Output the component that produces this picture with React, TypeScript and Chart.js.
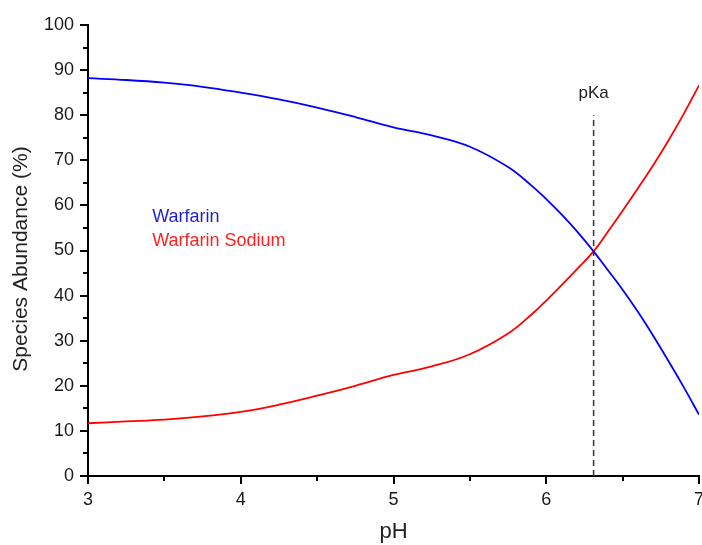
import React, { useEffect, useRef } from "react";
import { Chart, registerables } from "chart.js";
Chart.register(...registerables);

const pH = [3, 3.25, 3.5, 3.75, 4, 4.25, 4.5, 4.75, 5, 5.25, 5.5, 5.75, 5.9, 6.0, 6.1, 6.2, 6.31, 6.4, 6.5, 6.6, 6.7, 6.8, 6.9, 7];
const warfarin = [88.2, 87.8, 87.2, 86.3, 85.0, 83.5, 81.7, 79.6, 77.3, 75.5, 73.0, 68.5, 64.5, 61.4, 58.0, 54.3, 49.8, 45.8, 41.3, 36.4, 31.1, 25.5, 19.7, 13.6];
const warfarinSodium = [11.7, 12.1, 12.5, 13.2, 14.2, 15.8, 17.8, 20.0, 22.4, 24.3, 27.0, 31.6, 35.7, 38.9, 42.3, 45.8, 49.8, 54.0, 58.8, 63.8, 68.9, 74.4, 80.3, 86.6];
const pKa = 6.31;
const pKaLineTop = 80;
const xMinorTicks = [3.5, 4.5, 5.5, 6.5];
const yMinorTicks = [5, 15, 25, 35, 45, 55, 65, 75, 85, 95];
const seriesNames = ["Warfarin", "Warfarin Sodium"];
const seriesColors = ["#0000ff", "#ff0000"];
const labelColors = ["#1f1fd6", "#ff2020"];

const FONT = "'Liberation Sans', Arial, sans-serif";

const decorPlugin = {
  id: "decor",
  afterDraw(chart: any) {
    const { ctx } = chart;
    const xs = chart.scales.x;
    const ys = chart.scales.y;
    const axisY = ys.getPixelForValue(0);
    const axisX = xs.getPixelForValue(3);
    ctx.save();
    ctx.strokeStyle = "#000";
    ctx.lineWidth = 2;
    // minor ticks
    xMinorTicks.forEach((v) => {
      const px = Math.round(xs.getPixelForValue(v));
      ctx.beginPath();
      ctx.moveTo(px, axisY);
      ctx.lineTo(px, axisY + 5);
      ctx.stroke();
    });
    yMinorTicks.forEach((v) => {
      const py = Math.round(ys.getPixelForValue(v));
      ctx.beginPath();
      ctx.moveTo(axisX, py);
      ctx.lineTo(axisX - 5, py);
      ctx.stroke();
    });
    // pKa label
    ctx.fillStyle = "#222";
    ctx.font = `17px ${FONT}`;
    ctx.textAlign = "center";
    ctx.textBaseline = "alphabetic";
    ctx.fillText("pKa", xs.getPixelForValue(pKa), ys.getPixelForValue(pKaLineTop) - 17);
    // series labels
    ctx.font = `18px ${FONT}`;
    ctx.textAlign = "left";
    ctx.textBaseline = "middle";
    ctx.fillStyle = labelColors[0];
    ctx.fillText(seriesNames[0], xs.getPixelForValue(3.42), ys.getPixelForValue(57.4));
    ctx.fillStyle = labelColors[1];
    ctx.fillText(seriesNames[1], xs.getPixelForValue(3.42), ys.getPixelForValue(52.1));
    // y title
    ctx.fillStyle = "#222";
    ctx.font = `21px ${FONT}`;
    ctx.textAlign = "center";
    ctx.translate(21, 259);
    ctx.rotate(-Math.PI / 2);
    ctx.fillText("Species Abundance (%)", 0, 0);
    ctx.restore();
  },
};

export default function App() {
  const ref = useRef<HTMLCanvasElement>(null);
  useEffect(() => {
    document.body.style.margin = "0";
    const chart = new Chart(ref.current!, {
      type: "line",
      data: {
        datasets: [
          {
            label: seriesNames[0],
            data: pH.map((x, i) => ({ x, y: warfarin[i] })),
            borderColor: seriesColors[0],
            borderWidth: 1.8,
            pointRadius: 0,
            tension: 0.4,
          },
          {
            label: seriesNames[1],
            data: pH.map((x, i) => ({ x, y: warfarinSodium[i] })),
            borderColor: seriesColors[1],
            borderWidth: 1.8,
            pointRadius: 0,
            tension: 0.4,
          },
          {
            label: "pKa",
            data: [
              { x: pKa, y: 0 },
              { x: pKa, y: pKaLineTop },
            ],
            borderColor: "#333",
            borderWidth: 1.5,
            borderDash: [6, 4],
            pointRadius: 0,
          },
        ],
      },
      options: {
        animation: false,
        responsive: true,
        maintainAspectRatio: false,
        layout: { padding: { top: 25, right: 3, left: 0, bottom: 0 } },
        plugins: { legend: { display: false }, tooltip: { enabled: false } },
        scales: {
          x: {
            type: "linear",
            min: 3,
            max: 7,
            afterFit: (s: any) => {
              s.height = 69;
              s.paddingLeft = 0;
              s.paddingRight = 0;
            },
            ticks: { stepSize: 1, color: "#1a1a1a", font: { family: FONT, size: 18 }, padding: 5 },
            grid: { drawOnChartArea: false, drawTicks: true, tickLength: 8, color: "#000", lineWidth: 2 },
            border: { display: true, color: "#000", width: 2 },
            title: { display: true, text: "pH", color: "#222", font: { family: FONT, size: 22 }, padding: { bottom: 0, top: 0 } },
          },
          y: {
            min: 0,
            max: 100,
            afterFit: (s: any) => {
              s.width = 88;
              s.paddingTop = 0;
              s.paddingBottom = 0;
            },
            ticks: { stepSize: 10, color: "#1a1a1a", font: { family: FONT, size: 18 }, padding: 6 },
            grid: { drawOnChartArea: false, drawTicks: true, tickLength: 8, color: "#000", lineWidth: 2 },
            border: { display: true, color: "#000", width: 2 },
          },
        },
      },
      plugins: [decorPlugin],
    } as any);
    return () => chart.destroy();
  }, []);
  return (
    <div style={{ position: "relative", width: 702, height: 545 }}>
      <canvas ref={ref} />
    </div>
  );
}
